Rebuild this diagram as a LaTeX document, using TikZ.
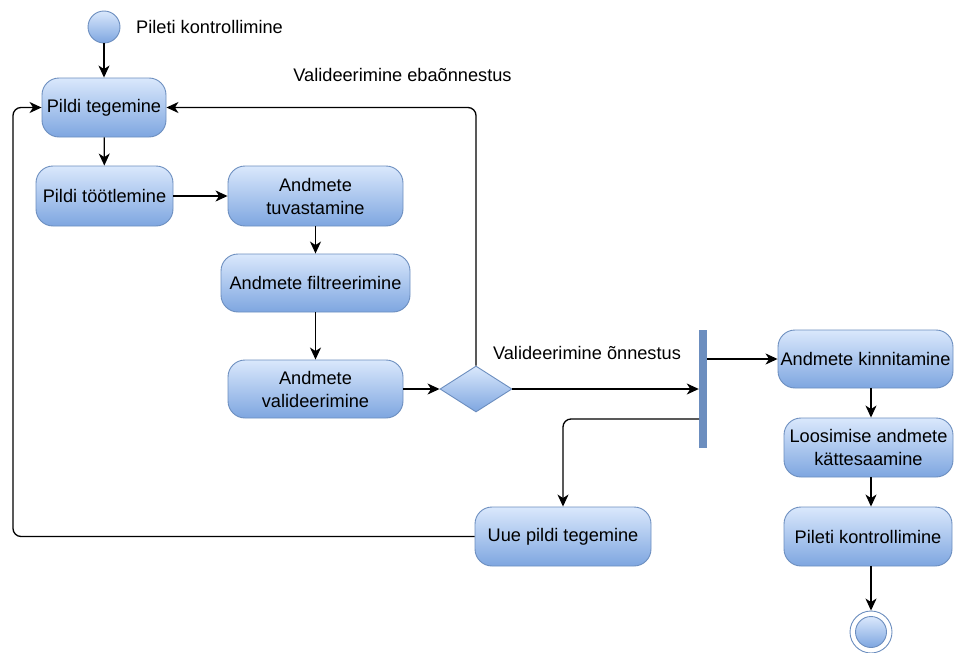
\documentclass[tikz,border=0pt]{standalone}
\usepackage{fontspec}
\setmainfont{Liberation Sans}
\usetikzlibrary{shapes.geometric,arrows.meta,calc}
\definecolor{bfill1}{HTML}{DAE8FC}
\definecolor{bfill2}{HTML}{7EA6E0}
\definecolor{bstroke}{HTML}{6C8EBF}
\begin{document}
\begin{tikzpicture}[x=1pt,y=-1pt,
  font=\fontsize{18.2}{23}\selectfont,
  act/.style={rectangle, rounded corners=17pt, draw=bstroke, line width=0.9pt,
    top color=bfill1, bottom color=bfill2, align=center, inner sep=0pt},
  startnode/.style={circle, draw=bstroke, line width=0.9pt, top color=bfill1, bottom color=bfill2,
    minimum size=32pt, inner sep=0pt},
  dec/.style={diamond, draw=bstroke, line width=0.9pt, top color=bfill1, bottom color=bfill2,
    minimum width=72pt, minimum height=46pt, aspect=1.565, inner sep=0pt},
  forkbar/.style={rectangle, fill=bstroke, draw=none, minimum width=8pt, minimum height=118pt, inner sep=0pt},
  flow/.style={draw=black, line width=1.3pt, rounded corners=8pt,
    -{Stealth[length=12pt,width=11pt,inset=3.5pt]}},
  lbl/.style={inner sep=0pt, anchor=center}
]
\useasboundingbox (0,0) rectangle (954,653);

\node[startnode] (start) at (104,27) {};
\node[lbl, anchor=west] (startlbl) at (136,27) {Pileti kontrollimine};

\node[act, minimum width=124pt, minimum height=59pt] (n1) at (104,107.5) {Pildi tegemine};
\node[act, minimum width=137pt, minimum height=60pt] (n2) at (104.5,196) {Pildi töötlemine};
\node[act, minimum width=175pt, minimum height=60pt] (n3) at (315.5,196) {Andmete\\tuvastamine};
\node[act, minimum width=189pt, minimum height=58pt] (n4) at (315.5,283) {Andmete filtreerimine};
\node[act, minimum width=175pt, minimum height=58pt] (n5) at (315.5,389) {Andmete\\valideerimine};
\node[dec] (dia) at (476,389) {};
\node[forkbar] (bar) at (703,389) {};
\node[act, minimum width=175pt, minimum height=58pt] (n6) at (865.5,359) {Andmete kinnitamine};
\node[act, minimum width=169pt, minimum height=59pt] (n7) at (868.5,447.5) {Loosimise andmete\\kättesaamine};
\node[act, minimum width=168pt, minimum height=59pt] (n8) at (868,536.5) {Pileti kontrollimine};
\node[circle, draw=bstroke, fill=white, line width=0.9pt, minimum size=42pt, inner sep=0pt] (end) at (871,632) {};
\node[startnode, minimum size=31pt] (endin) at (871,632) {};
\node[act, minimum width=176pt, minimum height=59pt] (n9) at (563,536.5) {Uue pildi tegemine};

\node[lbl] (lfail) at (402.5,75) {Valideerimine ebaõnnestus};
\node[lbl] (lok) at (587,353) {Valideerimine õnnestus};

\coordinate (c1) at (871,0);
\coordinate (cleft) at (13,536.5);
\coordinate (cbar) at (699,419);

\draw[flow] (start) -- (n1);
\draw[flow] (n1) -- (n2);
\draw[flow] (n2) -- (n3);
\draw[flow] (n3) -- (n4);
\draw[flow] (n4) -- (n5);
\draw[flow] (n5) -- (dia);
\draw[flow] (dia.north) |- (n1.east);
\draw[flow] (dia.east) -- (bar.west |- dia.east);
\draw[flow] (bar.east |- n6.west) -- (n6.west);
\draw[flow] (cbar) -| (n9.north);
\draw[flow] (n9.west) -- (cleft) |- (n1.west);
\draw[flow] (n6.south -| c1) -- (n7.north -| c1);
\draw[flow] (n7.south -| c1) -- (n8.north -| c1);
\draw[flow] (n8.south -| c1) -- (end.north);
\end{tikzpicture}
\end{document}
